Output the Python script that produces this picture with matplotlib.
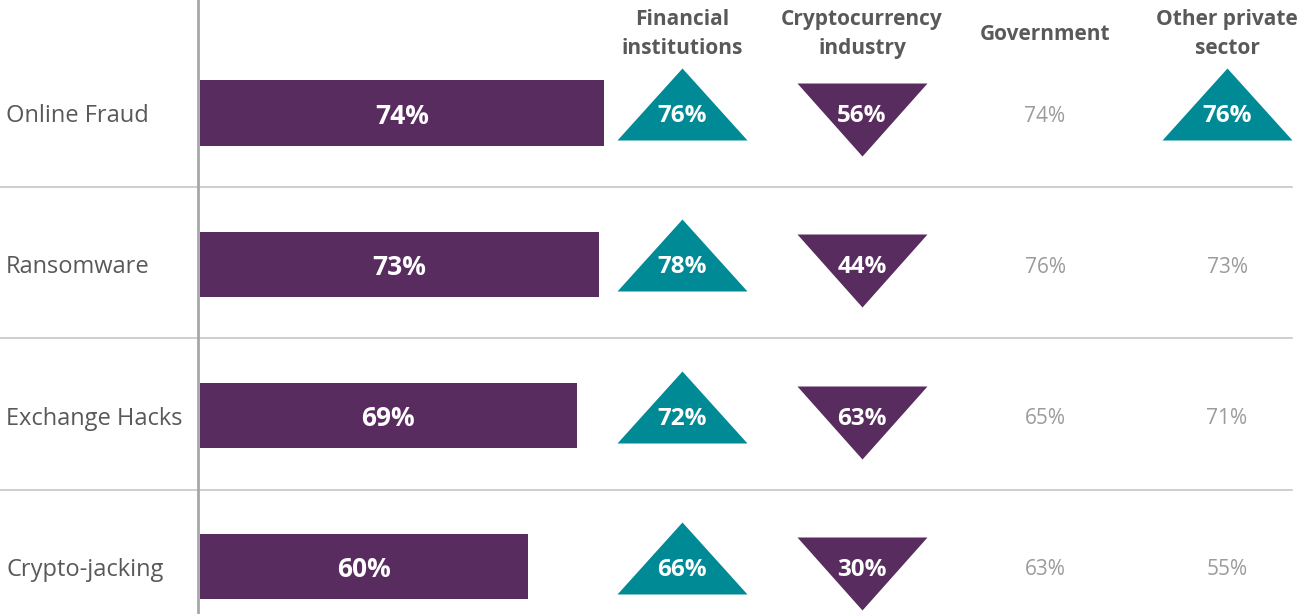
import matplotlib.pyplot as plt
from matplotlib.transforms import blended_transform_factory

# --------------------------
# DATA
# --------------------------
categories = ["Online Fraud", "Ransomware", "Exchange Hacks", "Crypto-jacking"]
overall = [74, 73, 69, 60]
financial = [76, 78, 72, 66]
crypto = [56, 44, 63, 30]
government = [74, 76, 65, 63]
other_private = [76, 73, 71, 55]
other_private_up = [True, False, False, False]  # only first cell gets a triangle

headers = ["Financial\ninstitutions", "Cryptocurrency\nindustry", "Government", "Other private\nsector"]

# --------------------------
# STYLE
# --------------------------
PURPLE = "#582C5E"
TEAL = "#008A96"
DARK = "#595959"
LIGHT = "#9b9b9b"
plt.rcParams["font.family"] = ["Open Sans", "DejaVu Sans"]

W, H = 1316, 614
PX = 5.46          # pixels per percent
LEFT_PX = 200      # where 0% sits
ROW_PX = 151.3     # row spacing
TOP_PX = 113       # first row centre
DY = 3 / ROW_PX    # text sits a touch lower than centre

col_x = [682 / W, 862 / W, 1045 / W, 1227 / W]

# triangle markers: half-width 65, offsets so the label sits in the fat part
up_tri = [(-65, -27), (65, -27), (0, 45)]
down_tri = [(-65, 30), (65, 30), (0, -43)]
tri_size = (130 / (100 / 72)) ** 2

fig = plt.figure(figsize=(W / 100, H / 100), dpi=100)
ax = fig.add_axes([0, 0, 1, 1])
ax.set_xlim(-LEFT_PX / PX, (W - LEFT_PX) / PX)
ax.set_ylim((H - TOP_PX) / ROW_PX, -TOP_PX / ROW_PX)
ax.axis("off")

rows = list(range(len(categories)))
tr = blended_transform_factory(ax.transAxes, ax.transData)

# separators + vertical axis line
for r in rows[:-1]:
    ax.axhline(r + 0.49, xmin=0, xmax=1292 / W, color="#c6c6c6", lw=1.2, zorder=0)
ax.axvline(-0.35, color="#a4a8aa", lw=2, zorder=3)

# bars
ax.barh(rows, overall, height=0.43, color=PURPLE, left=0, zorder=2)
for r, v in zip(rows, overall):
    ax.text(v / 2, r + DY, f"{v}%", ha="center", va="center", color="white",
            fontsize=19, fontweight="bold")
    ax.text(6 / W, r + DY, categories[r], transform=tr, ha="left", va="center",
            color=DARK, fontsize=17)

# financial institutions (up, teal)
ax.scatter([col_x[0]] * len(rows), rows, marker=up_tri, s=tri_size, color=TEAL,
           transform=tr, linewidths=0, zorder=2)
# crypto industry (down, purple)
ax.scatter([col_x[1]] * len(rows), rows, marker=down_tri, s=tri_size, color=PURPLE,
           transform=tr, linewidths=0, zorder=2)

for r in rows:
    ax.text(col_x[0], r + DY, f"{financial[r]}%", transform=tr, ha="center", va="center",
            color="white", fontsize=17.5, fontweight="bold", zorder=3)
    ax.text(col_x[1], r + DY, f"{crypto[r]}%", transform=tr, ha="center", va="center",
            color="white", fontsize=17.5, fontweight="bold", zorder=3)
    ax.text(col_x[2], r + DY, f"{government[r]}%", transform=tr, ha="center", va="center",
            color=LIGHT, fontsize=15)
    if other_private_up[r]:
        ax.scatter([col_x[3]], [r], marker=up_tri, s=tri_size, color=TEAL,
                   transform=tr, linewidths=0, zorder=2)
        ax.text(col_x[3], r + DY, f"{other_private[r]}%", transform=tr, ha="center",
                va="center", color="white", fontsize=17.5, fontweight="bold", zorder=3)
    else:
        ax.text(col_x[3], r + DY, f"{other_private[r]}%", transform=tr, ha="center",
                va="center", color=LIGHT, fontsize=15)

# column headers
head_y = (34 - TOP_PX) / ROW_PX
for x, h in zip(col_x, headers):
    ax.text(x, head_y, h, transform=tr, ha="center", va="center", color=DARK,
            fontsize=15, fontweight="bold", linespacing=1.5)

fig.savefig("out.png", dpi=100)
